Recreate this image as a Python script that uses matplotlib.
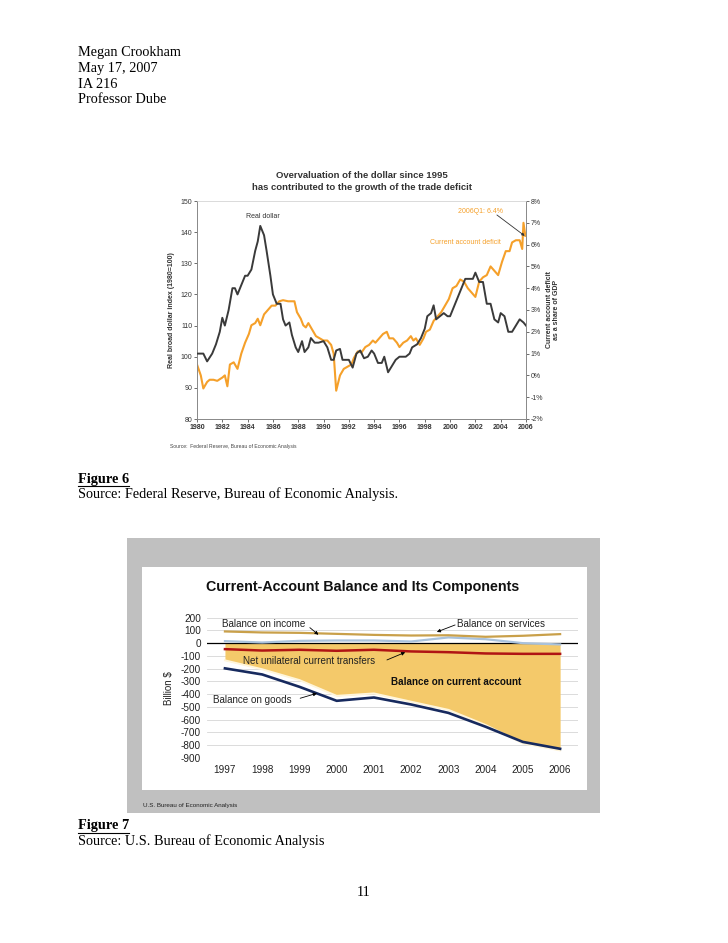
import matplotlib
matplotlib.use("Agg")
import matplotlib.pyplot as plt
from matplotlib.patches import Rectangle

plt.rcParams["axes.unicode_minus"] = False

W, H = 728, 943

# ---------------- Data: Figure 6 ----------------
dollar_x = [1980.0, 1980.5, 1980.8, 1981.2, 1981.5, 1981.8, 1982.0, 1982.2, 1982.5, 1982.8,
            1983.0, 1983.2, 1983.5, 1983.8, 1984.0, 1984.3, 1984.6, 1984.8, 1985.0, 1985.3,
            1985.5, 1985.8, 1986.0, 1986.3, 1986.6, 1986.8, 1987.0, 1987.3, 1987.5, 1987.8,
            1988.0, 1988.3, 1988.5, 1988.8, 1989.0, 1989.3, 1989.6, 1990.0, 1990.3, 1990.6,
            1990.8, 1991.0, 1991.3, 1991.5, 1991.8, 1992.0, 1992.3, 1992.6, 1992.9, 1993.2,
            1993.5, 1993.8, 1994.0, 1994.3, 1994.6, 1994.8, 1995.1, 1995.4, 1995.7, 1996.0,
            1996.5, 1996.8, 1997.0, 1997.4, 1997.7, 1998.0, 1998.2, 1998.5, 1998.7, 1998.9,
            1999.2, 1999.5, 1999.8, 2000.0, 2000.3, 2000.6, 2000.9, 2001.2, 2001.5, 2001.8,
            2002.0, 2002.3, 2002.6, 2002.9, 2003.2, 2003.5, 2003.8, 2004.0, 2004.3, 2004.6,
            2004.9, 2005.2, 2005.5, 2005.8, 2006.0]
dollar_y = [101, 101, 98.5, 101, 104, 108, 112.5, 110, 115, 122,
            122, 120, 123, 126, 126, 128, 134, 137, 142, 139,
            134, 126, 120, 117, 117, 112, 110, 111, 107, 103,
            101.5, 105, 101.5, 103, 106, 104.5, 104.5, 105, 103, 99,
            99, 102, 102.5, 99, 99, 99, 96.5, 101, 102, 99.5,
            100, 102, 101, 98, 98, 100, 95, 97, 99, 100,
            100, 101, 103, 104, 106, 109, 113, 114, 116.5, 112,
            113, 114, 113, 113, 116, 119, 122, 125, 125, 125,
            127, 124, 124, 117, 117, 112, 111, 114, 113, 108,
            108, 110, 112, 111, 110]

cad_x = [1980.0, 1980.3, 1980.5, 1980.8, 1981.0, 1981.3, 1981.6, 1982.0, 1982.2, 1982.4,
         1982.6, 1982.9, 1983.2, 1983.5, 1983.8, 1984.1, 1984.3, 1984.6, 1984.8, 1985.0,
         1985.3, 1985.6, 1985.9, 1986.2, 1986.5, 1986.8, 1987.2, 1987.5, 1987.7, 1987.9,
         1988.2, 1988.4, 1988.6, 1988.8, 1989.1, 1989.4, 1989.7, 1990.0, 1990.3, 1990.6,
         1990.8, 1991.0, 1991.3, 1991.6, 1991.9, 1992.2, 1992.4, 1992.7, 1993.0, 1993.3,
         1993.6, 1993.9, 1994.1, 1994.4, 1994.7, 1995.0, 1995.2, 1995.5, 1995.8, 1996.0,
         1996.3, 1996.6, 1996.9, 1997.1, 1997.3, 1997.6, 1997.9, 1998.1, 1998.4, 1998.7,
         1999.0, 1999.3, 1999.6, 1999.9, 2000.2, 2000.5, 2000.8, 2001.1, 2001.4, 2001.7,
         2002.0, 2002.3, 2002.6, 2002.9, 2003.2, 2003.5, 2003.8, 2004.1, 2004.4, 2004.7,
         2004.9, 2005.2, 2005.5, 2005.7, 2005.8, 2005.95]
cad_y = [0.5, 0.0, -0.6, -0.3, -0.2, -0.2, -0.25, -0.1, 0.0, -0.5,
         0.5, 0.6, 0.3, 1.0, 1.5, 1.9, 2.3, 2.4, 2.6, 2.3,
         2.8, 3.0, 3.2, 3.2, 3.4, 3.45, 3.4, 3.4, 3.4, 2.9,
         2.6, 2.3, 2.2, 2.4, 2.1, 1.8, 1.7, 1.6, 1.6, 1.4,
         1.0, -0.7, 0.0, 0.3, 0.4, 0.5, 0.8, 1.1, 1.05, 1.3,
         1.4, 1.6, 1.5, 1.7, 1.9, 2.0, 1.7, 1.7, 1.5, 1.3,
         1.5, 1.6, 1.8, 1.6, 1.7, 1.4, 1.7, 2.0, 2.1, 2.5,
         2.7, 2.9, 3.2, 3.5, 4.0, 4.1, 4.4, 4.3, 4.0, 3.8,
         3.6, 4.3, 4.5, 4.6, 5.0, 4.8, 4.6, 5.2, 5.7, 5.7,
         6.1, 6.2, 6.2, 5.8, 7.0, 6.4]

left_ticks = [80, 90, 100, 110, 120, 130, 140, 150]
right_ticks = [-2, -1, 0, 1, 2, 3, 4, 5, 6, 7, 8]
year_ticks1 = list(range(1980, 2007, 2))

# ---------------- Data: Figure 7 ----------------
years2 = [1997, 1998, 1999, 2000, 2001, 2002, 2003, 2004, 2005, 2006]
services = [92, 84, 81, 73, 65, 60, 62, 50, 58, 71]
income = [16, 5, 18, 21, 21, 13, 45, 31, 0, -10]
transfers = [-47, -58, -52, -60, -52, -65, -71, -81, -84, -84]
goods = [-198, -246, -343, -453, -427, -482, -548, -657, -776, -830]
current_account = [-135, -205, -290, -414, -395, -460, -524, -643, -788, -843]
y_ticks2 = list(range(200, -1000, -100))


def fx(px):
    return px / W


def fy(py):
    return 1 - py / H


fig = plt.figure(figsize=(W / 100, H / 100), dpi=100)
fig.patch.set_facecolor("white")

serif = "Liberation Serif"
sans = "Liberation Sans"
PAGE_FS = 10.3

# ---------------- Page text ----------------
for i, t in enumerate(["Megan Crookham", "May 17, 2007", "IA 216", "Professor Dube"]):
    fig.text(fx(78), fy(52.5 + i * 15.8), t, family=serif, fontsize=PAGE_FS,
             va="center", ha="left", color="black")

fig.text(fx(78), fy(479), "Figure 6", family=serif, fontsize=PAGE_FS, weight="bold",
         va="center", ha="left")
fig.add_artist(plt.Line2D([fx(78), fx(129)], [fy(485.5), fy(485.5)], color="black", lw=0.8))
fig.text(fx(78), fy(494), "Source: Federal Reserve, Bureau of Economic Analysis.",
         family=serif, fontsize=PAGE_FS, va="center", ha="left")

fig.text(fx(78), fy(826), "Figure 7", family=serif, fontsize=PAGE_FS, weight="bold",
         va="center", ha="left")
fig.add_artist(plt.Line2D([fx(78), fx(129)], [fy(832.5), fy(832.5)], color="black", lw=0.8))
fig.text(fx(78), fy(841), "Source: U.S. Bureau of Economic Analysis",
         family=serif, fontsize=PAGE_FS, va="center", ha="left")

fig.text(fx(364), fy(893), "11", family=serif, fontsize=PAGE_FS, va="center", ha="center")

# ---------------- Figure 6 chart ----------------
ax1 = fig.add_axes([fx(197), fy(419), (526 - 197) / W, (419 - 201) / H])
ax1.plot(dollar_x, dollar_y, color="#3a3a3a", lw=1.4, zorder=3)
ax1.set_xlim(1980, 2006)
ax1.set_ylim(80, 150)
ax1.set_yticks(left_ticks)
ax1.set_xticks(year_ticks1)
ax1.tick_params(axis="both", labelsize=5, colors="#333333", length=2, width=0.5, pad=1.5)
for lab in ax1.get_xticklabels():
    lab.set_fontweight("bold")
for s in ["left", "bottom", "right"]:
    ax1.spines[s].set_color("#888888")
    ax1.spines[s].set_linewidth(0.7)
ax1.spines["top"].set_color("#cccccc")
ax1.spines["top"].set_linewidth(0.5)
ax1.set_ylabel("Real broad dollar index (1980=100)", fontsize=5, weight="bold",
               color="#333333", family=sans, labelpad=4)

ax2 = ax1.twinx()
ax2.plot(cad_x, cad_y, color="#f5a02a", lw=1.5, zorder=2)
ax2.set_ylim(-2, 8)
ax2.set_yticks(right_ticks)
ax2.set_yticklabels([f"{v}%" for v in right_ticks])
ax2.tick_params(axis="y", labelsize=5, colors="#333333", length=2, width=0.5, pad=1.5)
for s in ax2.spines.values():
    s.set_visible(False)
ax1.set_zorder(ax2.get_zorder() + 1)
ax1.patch.set_visible(False)

for lab in ax1.get_yticklabels() + ax2.get_yticklabels() + ax1.get_xticklabels():
    lab.set_family(sans)

fig.text(fx(553), fy(310), "Current account deficit\nas a share of GDP", rotation=90,
         fontsize=5, weight="bold", color="#333333", family=sans,
         ha="center", va="center", linespacing=1.1)

fig.text(fx(362), fy(175), "Overvaluation of the dollar since 1995", fontsize=6.8,
         weight="bold", family=sans, ha="center", va="center", color="#333333")
fig.text(fx(362), fy(187), "has contributed to the growth of the trade deficit", fontsize=6.8,
         weight="bold", family=sans, ha="center", va="center", color="#333333")

ax1.text(1985.2, 144.9, "Real dollar", fontsize=5, family=sans, color="#333333",
         ha="center", va="center")
ax2.text(2002.4, 7.5, "2006Q1: 6.4%", fontsize=5, family=sans, color="#f5a02a",
         ha="center", va="center")
ax2.annotate("", xy=(2005.9, 6.4), xytext=(2003.7, 7.36),
             arrowprops=dict(arrowstyle="-|>", color="#333333", lw=0.6,
                             mutation_scale=4, shrinkA=0, shrinkB=0))
ax2.text(2001.2, 6.1, "Current account deficit", fontsize=5, family=sans,
         color="#f5a02a", ha="center", va="center")

fig.text(fx(170), fy(446), "Source:  Federal Reserve, Bureau of Economic Analysis",
         fontsize=3.6, family=sans, color="#444444", ha="left", va="center")

# ---------------- Figure 7 chart ----------------
fig.add_artist(Rectangle((fx(127), fy(813)), (600 - 127) / W, (813 - 538) / H,
                         transform=fig.transFigure, facecolor="#c0c0c0",
                         edgecolor="none", zorder=0))
fig.add_artist(Rectangle((fx(142), fy(790)), (587 - 142) / W, (790 - 567) / H,
                         transform=fig.transFigure, facecolor="white",
                         edgecolor="none", zorder=0))

fig.text(fx(363), fy(587), "Current-Account Balance and Its Components", fontsize=10.3,
         weight="bold", family=sans, ha="center", va="center", color="#111111")
fig.text(fx(143), fy(806), "U.S. Bureau of Economic Analysis", fontsize=4.5,
         family=sans, ha="left", va="center", color="#222222")

ax3 = fig.add_axes([fx(206.7), fy(757.7), (578 - 206.7) / W, (757.7 - 617.7) / H])
ax3.set_facecolor("white")
ax3.set_xlim(1996.51, 2006.48)
ax3.set_ylim(-900, 200)
ax3.set_yticks(y_ticks2)
ax3.set_xticks(years2)
ax3.grid(axis="y", color="#d6d6d6", lw=0.6)
ax3.set_axisbelow(True)
for s in ax3.spines.values():
    s.set_visible(False)
ax3.tick_params(axis="both", length=0, labelsize=7.2, colors="#222222")
ax3.tick_params(axis="x", pad=5)
ax3.tick_params(axis="y", pad=4)
for lab in ax3.get_xticklabels() + ax3.get_yticklabels():
    lab.set_family(sans)

ax3.fill_between(years2, 0, current_account, color="#f4c96a", lw=0, zorder=1)
ax3.plot(years2, current_account, color="#fff6dc", lw=1.4, zorder=2)
ax3.axhline(0, color="black", lw=0.9, zorder=3)
ax3.plot(years2, income, color="#a9c2dc", lw=1.6, zorder=4)
ax3.plot(years2, services, color="#c9a04a", lw=1.6, zorder=4)
ax3.plot(years2, transfers, color="#b01414", lw=1.8, zorder=4)
ax3.plot(years2, goods, color="#172a5e", lw=1.9, zorder=5)

ax3.set_ylabel("Billion $", fontsize=7, family=sans, color="#222222", labelpad=5)

arrow_kw = dict(arrowstyle="-|>", color="black", lw=0.6, mutation_scale=5,
                shrinkA=0, shrinkB=0)
LBL = 7.1
ax3.text(1996.91, 148, "Balance on income", fontsize=LBL, family=sans, ha="left",
         va="center", color="#222222", zorder=6)
ax3.annotate("", xy=(1999.51, 66), xytext=(1999.28, 122), arrowprops=arrow_kw, zorder=6)
ax3.text(2003.23, 148, "Balance on services", fontsize=LBL, family=sans, ha="left",
         va="center", color="#222222", zorder=6)
ax3.annotate("", xy=(2002.69, 88), xytext=(2003.18, 143), arrowprops=arrow_kw, zorder=6)
ax3.text(1997.49, -140, "Net unilateral current transfers", fontsize=LBL, family=sans,
         ha="left", va="center", color="#222222", zorder=6)
ax3.annotate("", xy=(2001.84, -72), xytext=(2001.35, -132), arrowprops=arrow_kw, zorder=6)
ax3.text(2001.45, -305, "Balance on current account", fontsize=LBL, family=sans,
         weight="bold", ha="left", va="center", color="#111111", zorder=6)
ax3.text(1996.69, -446, "Balance on goods", fontsize=LBL, family=sans, ha="left",
         va="center", color="#222222", zorder=6)
ax3.annotate("", xy=(1999.47, -394), xytext=(1999.02, -433), arrowprops=arrow_kw, zorder=6)

fig.savefig("out.png", dpi=100)
